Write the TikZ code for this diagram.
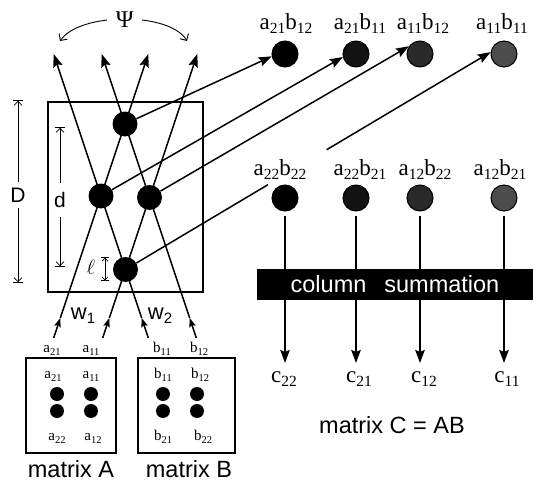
\documentclass[tikz,border=0pt]{standalone}
\usepackage{fontspec}
\setmainfont{Liberation Serif}
\setsansfont{Liberation Sans}
\usetikzlibrary{arrows.meta,calc}
% lowered subscripts for the serif labels
\newcommand\bigsub[1]{\raisebox{-4.5pt}{\fontsize{15.5}{15.5}\selectfont #1}}
\newcommand\smallsub[1]{\raisebox{-3pt}{\fontsize{10.5}{10.5}\selectfont #1}}
\newcommand\wsub[1]{\raisebox{-4pt}{\fontsize{15}{15}\selectfont #1}}

\begin{document}
\begin{tikzpicture}[x=1pt,y=-1pt,
  beam/.style={line width=1.5pt},
  bigtip/.style={-{Stealth[length=13pt,width=9.5pt,inset=2pt]}},
  smalltip/.style={-{Stealth[length=9pt,width=6.5pt,inset=1.5pt]}},
  spot/.style={circle,fill=black,inner sep=0pt,minimum size=25pt},
  prod/.style={circle,draw=black,line width=1pt,inner sep=0pt,minimum size=26pt},
  elem/.style={circle,fill=black,inner sep=0pt,minimum size=14pt},
  box/.style={draw,line width=1.6pt,inner sep=0pt},
  serifbig/.style={font=\fontsize{23}{23}\selectfont,inner sep=1pt,anchor=base},
  serifsmall/.style={font=\fontsize{15}{15}\selectfont,inner sep=0.5pt,anchor=base},
  sanslab/.style={font=\sffamily\fontsize{23.5}{23.5}\selectfont,inner sep=1pt,anchor=base},
  dimlab/.style={font=\sffamily\fontsize{21}{21}\selectfont,fill=white,inner xsep=1pt},
  dimline/.style={line width=0.8pt,
    {Bar[width=10pt]Straight Barb[length=4pt,width=8pt]}-{Straight Barb[length=4pt,width=8pt]Bar[width=10pt]}},
  smalldim/.style={line width=0.7pt,
    {Bar[width=8pt]Straight Barb[length=3pt,width=6pt]}-{Straight Barb[length=3pt,width=6pt]Bar[width=8pt]}},
  arcline/.style={line width=0.9pt,
    {Straight Barb[length=5pt,width=10pt]}-{Straight Barb[length=5pt,width=10pt]}}
]
\useasboundingbox (0,0) rectangle (542,482);

% ---------- the crossing region ----------
\node[box,minimum width=155pt,minimum height=190pt] (chip) at (125.5,197) {};

% beam end points
\coordinate (a21s) at (53.7,338);  \coordinate (a21m) at (60.3,318);  \coordinate (a21e) at (148.3,54);
\coordinate (a11s) at (102.7,338); \coordinate (a11m) at (109.3,318); \coordinate (a11e) at (197.3,54);
\coordinate (b11s) at (148.3,338); \coordinate (b11m) at (141.7,318); \coordinate (b11e) at (53.7,54);
\coordinate (b12s) at (196.3,338); \coordinate (b12m) at (189.7,318); \coordinate (b12e) at (101.7,54);

\foreach \b in {a21,a11,b11,b12}{
  \draw[beam,smalltip] (\b s) -- (\b m);
  \draw[beam,bigtip] (\b m) -- (\b e);
}

% crossing spots
\node[spot] (dT) at (125,124) {};
\node[spot] (dL) at (101,196) {};
\node[spot] (dR) at (149.5,197.5) {};
\node[spot] (dB) at (125.5,269.5) {};

% angular spread
\coordinate (psiL) at (60,41);
\coordinate (psiR) at (187,41);
\draw[arcline] (psiL) .. controls (80,12) and (170,12) .. (psiR)
  node[pos=0.5,fill=white,inner xsep=9pt,inner ysep=2pt,font=\fontsize{24}{24}\selectfont] (psi) {Ψ};

% dimensions
\coordinate (Dtop) at (18,100);  \coordinate (Dbot) at (18,283);
\draw[dimline] (Dtop) -- (Dbot) node[pos=0.52,dimlab,inner ysep=6pt] (Dlab) {D};
\coordinate (dtop) at (60,127);  \coordinate (dbot) at (60,267);
\draw[dimline] (dtop) -- (dbot) node[pos=0.52,dimlab,inner ysep=9pt] (dlab) {d};
\coordinate (ltop) at (105,257); \coordinate (lbot) at (105,281);
\draw[smalldim] (ltop) -- (lbot);
\node[font=\fontsize{20}{20}\selectfont,inner sep=0pt] (ell) at (91,267) {$\ell$};

% beam width labels
\node[sanslab,font=\sffamily\fontsize{22}{22}\selectfont] (w1) at (83,319) {w\wsub{1}};
\node[sanslab,font=\sffamily\fontsize{22}{22}\selectfont] (w2) at (160,319) {w\wsub{2}};

% ---------- input matrices ----------
\node[box,minimum width=90pt,minimum height=95pt] (matA) at (71,405.5) {};
\node[box,minimum width=97pt,minimum height=95pt] (matB) at (186.5,405.5) {};

\node[serifsmall] (ia21) at (52,352) {a\smallsub{21}};
\node[serifsmall] (ia11) at (91,352) {a\smallsub{11}};
\node[serifsmall] (ib11) at (162,352) {b\smallsub{11}};
\node[serifsmall] (ib12) at (199,352) {b\smallsub{12}};

\node[serifsmall] (ma21) at (53,378) {a\smallsub{21}};
\node[serifsmall] (ma11) at (91,378) {a\smallsub{11}};
\node[serifsmall] (ma22) at (57,440) {a\smallsub{22}};
\node[serifsmall] (ma12) at (93,440) {a\smallsub{12}};
\node[serifsmall] (mb11) at (163,378) {b\smallsub{11}};
\node[serifsmall] (mb12) at (200,378) {b\smallsub{12}};
\node[serifsmall] (mb21) at (163,440) {b\smallsub{21}};
\node[serifsmall] (mb22) at (203,440) {b\smallsub{22}};

\node[elem] (ea1) at (57,394) {};  \node[elem] (ea2) at (91,394) {};
\node[elem] (ea3) at (57,411) {};  \node[elem] (ea4) at (91,411) {};
\node[elem] (eb1) at (163,394) {}; \node[elem] (eb2) at (197,394) {};
\node[elem] (eb3) at (163,411) {}; \node[elem] (eb4) at (197,411) {};

\node[sanslab] (capA) at (71,477) {matrix A};
\node[sanslab] (capB) at (189,477) {matrix B};

% ---------- product spots ----------
\node[prod,fill=black]    (pA) at (285,54) {};
\node[prod,fill=black!93] (pB) at (356,54) {};
\node[prod,fill=black!84] (pC) at (420,54) {};
\node[prod,fill=black!70] (pD) at (504,54) {};
\node[prod,fill=black]    (qA) at (285,198) {};
\node[prod,fill=black!93] (qB) at (356,198) {};
\node[prod,fill=black!84] (qC) at (420,198) {};
\node[prod,fill=black!70] (qD) at (504,198) {};

\draw[beam,bigtip] (dT) -- (pA.190);
\draw[beam,bigtip] (dL) -- (pB.193);
\draw[beam,bigtip] (dR) -- (pC.145);
\coordinate (gapL) at ($(dB.center)!0.39!(pD.172)$);
\coordinate (gapR) at ($(dB.center)!0.551!(pD.172)$);
\draw[beam] (dB) -- (gapL);
\draw[beam,bigtip] (gapR) -- (pD.172);

\node[serifbig] (tA) at (286,29) {a\bigsub{21}b\bigsub{12}};
\node[serifbig] (tB) at (360,29) {a\bigsub{21}b\bigsub{11}};
\node[serifbig] (tC) at (423,29) {a\bigsub{11}b\bigsub{12}};
\node[serifbig] (tD) at (502,29) {a\bigsub{11}b\bigsub{11}};
\node[serifbig] (uA) at (280,175) {a\bigsub{22}b\bigsub{22}};
\node[serifbig] (uB) at (360,175) {a\bigsub{22}b\bigsub{21}};
\node[serifbig] (uC) at (425,175) {a\bigsub{12}b\bigsub{22}};
\node[serifbig] (uD) at (500,175) {a\bigsub{12}b\bigsub{21}};

% ---------- column summation ----------
\node[serifbig] (cA) at (284,382) {c\bigsub{22}};
\node[serifbig] (cB) at (359,382) {c\bigsub{21}};
\node[serifbig] (cC) at (424,382) {c\bigsub{12}};
\node[serifbig] (cD) at (507,382) {c\bigsub{11}};

\foreach \q/\c in {qA/cA,qB/cB,qC/cC,qD/cD}{
  \draw[beam,bigtip,shorten <=4pt,shorten >=7pt] (\q) -- (\q |- \c.north);
}

\node[fill=black,text=white,minimum width=276pt,minimum height=31pt,inner sep=0pt,
      font=\sffamily\fontsize{23.5}{23.5}\selectfont] (sumbar) at (395,284.5)
      {column\hspace{18pt}summation};

\node[sanslab] (capC) at (392,433) {matrix C = AB};
\end{tikzpicture}
\end{document}
